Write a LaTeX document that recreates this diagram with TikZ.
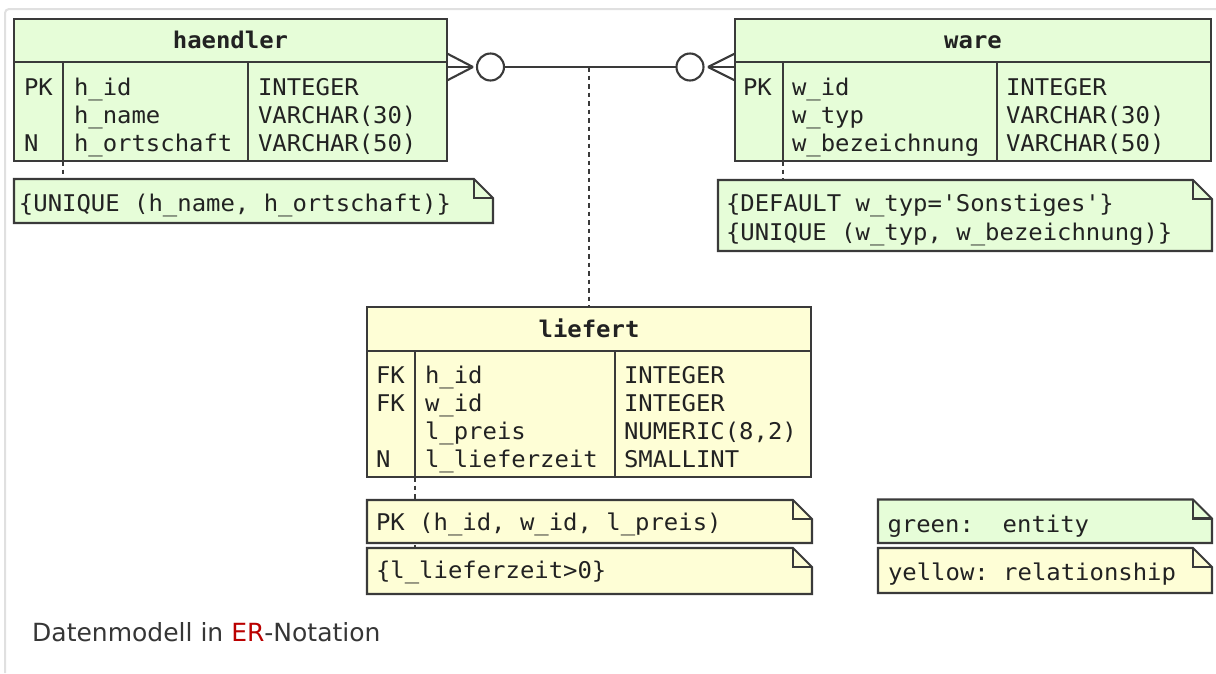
\documentclass[tikz,border=0pt]{standalone}
\usepackage{fontspec}
\newfontfamily\erfont{DejaVu Sans Mono}[FakeStretch=1.04]
\newfontfamily\capfont{DejaVu Sans}
\usetikzlibrary{calc}
\definecolor{entgreen}{HTML}{E6FDD8}
\definecolor{relyellow}{HTML}{FEFED6}
\definecolor{linec}{HTML}{3A3A3A}
\definecolor{textc}{HTML}{222222}
\definecolor{framec}{HTML}{E0E0E0}
\definecolor{capc}{HTML}{363636}
\definecolor{linkred}{HTML}{BA0000}
\newcommand\drawnote[2]{%
  \path[line, fill=#2] (#1.north west) -- ([xshift=-19pt]#1.north east) -- ([yshift=-19pt]#1.north east) -- (#1.south east) -- (#1.south west) -- cycle;
  \draw[line] ([xshift=-19pt]#1.north east) |- ([yshift=-19pt]#1.north east);
}
\begin{document}
\begin{tikzpicture}[x=1pt,y=-1pt,
  line/.style={draw=linec, line width=2.1pt, line join=miter},
  entbox/.style={line, fill=entgreen, rectangle, inner sep=0pt, outer sep=0pt},
  relbox/.style={line, fill=relyellow, rectangle, inner sep=0pt, outer sep=0pt},
  notebox/.style={rectangle, draw=none, inner sep=0pt, outer sep=0pt},
  txt/.style={anchor=base west, inner sep=0pt, outer sep=0pt, text=textc, font=\erfont\frenchspacing\fontsize{23}{28}\selectfont},
  head/.style={anchor=base, inner sep=0pt, outer sep=0pt, text=textc, font=\erfont\bfseries\fontsize{23}{28}\selectfont},
  dashc/.style={draw=linec, line width=2.1pt, dash pattern=on 4.5pt off 4pt},
  ring/.style={circle, draw=linec, line width=2.1pt, fill=white, minimum size=27pt, inner sep=0pt, outer sep=0pt}
]
\useasboundingbox (0,0) rectangle (1216,673);
\fill[white] (0,0) rectangle (1216,673);
\draw[framec, line width=2pt, rounded corners=4pt] (1216,9) -- (5,9) -- (5,673);

% ---------- entity boxes ----------
\node[entbox, minimum width=433pt, minimum height=142pt] (haendler) at (230.5,90) {};
\node[entbox, minimum width=476pt, minimum height=142pt] (ware) at (973,90) {};
\node[relbox, minimum width=444pt, minimum height=170pt] (liefert) at (589,392) {};

% internal lines
\draw[line] (haendler.west |- 0,62) -- (haendler.east |- 0,62);
\draw[line] (63,62) -- (haendler.south -| 63,0);
\draw[line] (248,62) -- (haendler.south -| 248,0);
\draw[line] (ware.west |- 0,62) -- (ware.east |- 0,62);
\draw[line] (783,62) -- (ware.south -| 783,0);
\draw[line] (997,62) -- (ware.south -| 997,0);
\draw[line] (liefert.west |- 0,351) -- (liefert.east |- 0,351);
\draw[line] (415,351) -- (liefert.south -| 415,0);
\draw[line] (615,351) -- (liefert.south -| 615,0);

% titles
\node[head] (haendler-title) at (230.5,48) {haendler};
\node[head] (ware-title) at (973,48) {ware};
\node[head] (liefert-title) at (589,337) {liefert};

% haendler rows
\node[txt] (h-k1) at (24,95.5) {PK};
\node[txt] (h-k3) at (24,151) {N};
\node[txt] (h-a1) at (74,95.5) {h\_id};
\node[txt] (h-a2) at (74,123.2) {h\_name};
\node[txt] (h-a3) at (74,151) {h\_ortschaft};
\node[txt] (h-t1) at (258,95.5) {INTEGER};
\node[txt] (h-t2) at (258,123.2) {VARCHAR(30)};
\node[txt] (h-t3) at (258,151) {VARCHAR(50)};

% ware rows
\node[txt] (w-k1) at (743,95.5) {PK};
\node[txt] (w-a1) at (792,95.5) {w\_id};
\node[txt] (w-a2) at (792,123.2) {w\_typ};
\node[txt] (w-a3) at (792,151) {w\_bezeichnung};
\node[txt] (w-t1) at (1006,95.5) {INTEGER};
\node[txt] (w-t2) at (1006,123.2) {VARCHAR(30)};
\node[txt] (w-t3) at (1006,151) {VARCHAR(50)};

% liefert rows
\node[txt] (l-k1) at (376,383.5) {FK};
\node[txt] (l-k2) at (376,411.3) {FK};
\node[txt] (l-k4) at (376,467) {N};
\node[txt] (l-a1) at (425,383.5) {h\_id};
\node[txt] (l-a2) at (425,411.3) {w\_id};
\node[txt] (l-a3) at (425,439.1) {l\_preis};
\node[txt] (l-a4) at (425,467) {l\_lieferzeit};
\node[txt] (l-t1) at (624,383.5) {INTEGER};
\node[txt] (l-t2) at (624,411.3) {INTEGER};
\node[txt] (l-t3) at (624,439.1) {NUMERIC(8,2)};
\node[txt] (l-t4) at (624,467) {SMALLINT};

% ---------- notes ----------
\node[notebox, minimum width=479pt, minimum height=44pt] (n-h) at (253.5,201) {};
\node[notebox, minimum width=494pt, minimum height=71pt] (n-w) at (965,215.5) {};
\node[notebox, minimum width=445pt, minimum height=43pt] (n-l1) at (589.5,521.5) {};
\node[notebox, minimum width=445pt, minimum height=46pt] (n-l2) at (589.5,571) {};
\node[notebox, minimum width=334pt, minimum height=43.5pt] (n-g) at (1045,521.25) {};
\node[notebox, minimum width=334pt, minimum height=45pt] (n-y) at (1045,570.5) {};

% dashed note connectors (behind notes)
\draw[dashc] (haendler.south -| 63,0) -- (n-h.north -| 63,0);
\draw[dashc] (ware.south -| 783,0) -- (n-w.north -| 783,0);
\draw[dashc] (liefert.south -| 415,0) -- (n-l2.north -| 415,0);

\drawnote{n-h}{entgreen}
\drawnote{n-w}{entgreen}
\drawnote{n-l1}{relyellow}
\drawnote{n-l2}{relyellow}
\drawnote{n-g}{entgreen}
\drawnote{n-y}{relyellow}

\node[txt] (n-h-text) at (19,211.5) {\{UNIQUE (h\_name, h\_ortschaft)\}};
\node[txt] (n-w-text1) at (726,211.5) {\{DEFAULT w\_typ=\textquotesingle Sonstiges\textquotesingle\}};
\node[txt] (n-w-text2) at (726,240) {\{UNIQUE (w\_typ, w\_bezeichnung)\}};
\node[txt] (n-l1-text) at (376,530.5) {PK (h\_id, w\_id, l\_preis)};
\node[txt] (n-l2-text) at (376,578.5) {\{l\_lieferzeit>0\}};
\node[txt] (n-g-text) at (887.5,532) {green:\ \ entity};
\node[txt] (n-y-text) at (888,580) {yellow:\ relationship};

% ---------- relationship connector ----------
\coordinate (hc) at ([yshift=23pt]haendler.east);
\coordinate (wc) at ([yshift=23pt]ware.west);
\node[ring] (ring-h) at ($(hc)+(43.5,0)$) {};
\node[ring] (ring-w) at ($(wc)+(-45,0)$) {};
\coordinate (mid) at (liefert.north |- hc);
\draw[dashc] (mid) -- (liefert.north);
\draw[line] (ring-h.east) -- (ring-w.west);
% crow's foot at haendler
\draw[line] (hc) -- ++(26,0);
\draw[line] ([yshift=13.5pt]hc) -- ++(26,13.5);
\draw[line] ([yshift=-13.5pt]hc) -- ++(26,-13.5);
% crow's foot at ware
\draw[line] (wc) -- ++(-27,0);
\draw[line] ([yshift=13.5pt]wc) -- ++(-27,13.5);
\draw[line] ([yshift=-13.5pt]wc) -- ++(-27,-13.5);

% ---------- caption ----------
\node[anchor=base west, inner sep=0pt, text=capc, font=\capfont\fontsize{25}{30}\selectfont] (caption) at (32,641.5) {Datenmodell in \textcolor{linkred}{ER}-Notation};
\end{tikzpicture}
\end{document}
